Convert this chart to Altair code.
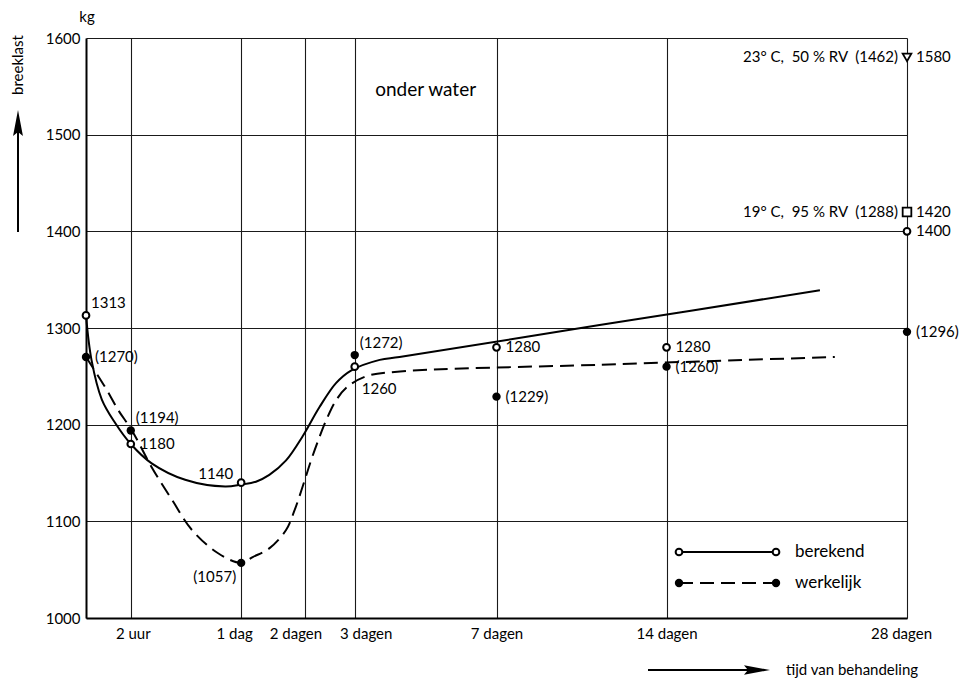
import altair as alt
import pandas as pd

# ---------------- data ----------------
# x axis: time of treatment in hours (square-root scale in the original)
tick_hours = [2, 24, 48, 72, 168, 336, 672]
tick_labels = ["2 uur", "1 dag", "2 dagen", "3 dagen", "7 dagen", "14 dagen", "28 dagen"]
y_ticks = [1000, 1100, 1200, 1300, 1400, 1500, 1600]

meas_hours = [0, 2, 24, 72, 168, 336, 672]
berekend = [1313, 1180, 1140, 1260, 1280, 1280, 1400]
werkelijk = [1270, 1194, 1057, 1272, 1229, 1260, 1296]
berekend_labels = ["1313", "1180", "1140", "1260", "1280", "1280", "1400"]
werkelijk_labels = ["(1270)", "(1194)", "(1057)", "(1272)", "(1229)", "(1260)", "(1296)"]

# other storage conditions at 28 dagen
NB = "\u00a0"
cond_hours = [672, 672]
cond_values = [1580, 1420]
cond_value_labels = ["1580", "1420"]
cond_names = [f"23° C,{NB}{NB}50 % RV{NB}{NB}(1462)", f"19° C,{NB}{NB}95 % RV{NB}{NB}(1288)"]
cond_shapes = ["triangle-down", "square"]

# hand-drawn curves
fit_b_hours = [0, 0.03, 0.25, 0.84, 2, 4.3, 9.8, 19.3, 24, 28.8, 33.5, 39.9, 46.8,
               54.3, 62.3, 70, 86, 98, 263, 537]
fit_b_kg = [1313, 1267, 1226, 1202, 1180, 1160, 1143, 1136, 1138, 1141, 1148, 1163, 1188,
            1218, 1243, 1256, 1267, 1270, 1303, 1339]
fit_w_hours = [0, 0.36, 1.04, 2.1, 4.3, 7.4, 11.2, 17.4, 24, 27.7, 33.5, 39.9, 43.3, 46.8,
               50.5, 54.3, 58.2, 62.3, 67.4, 78.2, 98.3, 263, 559]
fit_w_kg = [1270, 1239, 1215, 1194, 1156, 1122, 1091, 1067, 1057, 1063, 1072, 1091, 1111, 1136,
            1163, 1187, 1208, 1225, 1238, 1250, 1255, 1262, 1270]

annot_text = "onder water"
annot_hours = 115
annot_kg = 1546

FONT = "Lato"
FS = 15

# ---------------- tables ----------------
fit_b = pd.DataFrame({"h": fit_b_hours, "kg": fit_b_kg})
fit_w = pd.DataFrame({"h": fit_w_hours, "kg": fit_w_kg})
pts_b = pd.DataFrame({"h": meas_hours, "kg": berekend, "lab": berekend_labels})
pts_w = pd.DataFrame({"h": meas_hours, "kg": werkelijk, "lab": werkelijk_labels})
cond = pd.DataFrame({"h": cond_hours, "kg": cond_values, "lab": cond_value_labels,
                     "name": cond_names, "shape": cond_shapes})

# label placement (styling, not data)
place_b = {"1313": "ur", "1180": "r", "1140": "ul", "1260": "dr"}
place_w = {"(1194)": "ur", "(1272)": "ur", "(1057)": "dl"}
pts_b["pos"] = [place_b.get(l, "r") for l in berekend_labels]
pts_w["pos"] = [place_w.get(l, "r") for l in werkelijk_labels]
labels = pd.concat([pts_b, pts_w, cond[["h", "kg", "lab"]].assign(pos="r")], ignore_index=True)

# ---------------- scales / axes ----------------
label_expr = "".join(
    f"datum.value == {h} ? '{t}' : " for h, t in zip(tick_hours, tick_labels)
) + "''"
offsets = {2: 2, 24: -7, 48: -10, 72: 11, 672: -6}
x_axis = alt.Axis(
    values=tick_hours, labelExpr=label_expr, grid=True, ticks=False,
    gridColor="#1a1a1a", gridWidth=1.1, gridOpacity=1,
    domainColor="black", domainWidth=2, labelFontSize=FS, labelColor="black",
    labelFont=FONT, labelPadding=8, labelOverlap=False, labelFlush=False,
    labelOffset={"condition": [{"test": f"datum.value == {h}", "value": v} for h, v in offsets.items()],
                 "value": 0},
    title=None,
)
y_axis = alt.Axis(
    values=y_ticks, format="d", grid=True, ticks=False, gridColor="#1a1a1a", gridWidth=1.1,
    gridOpacity=1, domainColor="black", domainWidth=2, labelFontSize=FS,
    labelColor="black", labelFont=FONT, labelPadding=6, title=None, labelFlush=False,
)
X = alt.X("h:Q", scale=alt.Scale(type="sqrt", domain=[0, 672], nice=False), axis=x_axis)
Y = alt.Y("kg:Q", scale=alt.Scale(domain=[1000, 1600], nice=False, zero=False), axis=y_axis)

# ---------------- layers ----------------
line_b = alt.Chart(fit_b).mark_line(interpolate="catmull-rom", color="black", strokeWidth=2).encode(x=X, y=Y)
line_w = alt.Chart(fit_w).mark_line(interpolate="catmull-rom", color="black", strokeWidth=2,
                                    strokeDash=[14, 7]).encode(x=X, y=Y)

dot_w = alt.Chart(pts_w).mark_point(shape="circle", filled=True, color="black", size=70,
                                    opacity=1).encode(x=X, y=Y)
dot_b = alt.Chart(pts_b).mark_point(shape="circle", filled=True, fill="white", stroke="black",
                                    strokeWidth=2, size=45, opacity=1).encode(x=X, y=Y)
dot_c = alt.Chart(cond).mark_point(filled=True, fill="white", stroke="black", strokeWidth=1.8,
                                   size=75, opacity=1).encode(
    x=X, y=Y, shape=alt.Shape("shape:N", scale=None))

place_style = {
    "r": dict(align="left", dx=9, dy=0),
    "ur": dict(align="left", dx=5, dy=-12),
    "dr": dict(align="left", dx=7, dy=22),
    "ul": dict(align="right", dx=-8, dy=-9),
    "dl": dict(align="right", dx=-5, dy=14),
}
text_layers = []
for key, st in place_style.items():
    text_layers.append(
        alt.Chart(labels).transform_filter(alt.datum.pos == key).mark_text(
            baseline="middle", font=FONT, fontSize=FS, color="black", **st
        ).encode(x=X, y=Y, text="lab:N")
    )
cond_names_layer = alt.Chart(cond).mark_text(
    align="right", baseline="middle", dx=-9, font=FONT, fontSize=FS, color="black"
).encode(x=X, y=Y, text="name:N")

annot = alt.Chart(pd.DataFrame({"h": [annot_hours], "kg": [annot_kg], "t": [annot_text]})).mark_text(
    align="center", baseline="middle", font=FONT, fontSize=19, color="black"
).encode(x=X, y=Y, text="t:N")

one = alt.Data(values=[{}])

def txt(s, x, y, **kw):
    return alt.Chart(one).mark_text(text=s, font=FONT, color="black", **kw).encode(
        x=alt.value(x), y=alt.value(y))

# legend (inside the lower-right grid cell)
LX1, LX2, LT = 593, 690, 709
LY1, LY2 = 514, 545
leg = [
    alt.Chart(one).mark_rule(color="black", strokeWidth=2).encode(
        x=alt.value(LX1), x2=alt.value(LX2), y=alt.value(LY1)),
    alt.Chart(one).mark_rule(color="black", strokeWidth=2, strokeDash=[14, 7]).encode(
        x=alt.value(LX1), x2=alt.value(LX2), y=alt.value(LY2)),
]
for lx in (LX1, LX2):
    leg.append(alt.Chart(one).mark_point(shape="circle", filled=True, fill="white", stroke="black",
                                         strokeWidth=2, size=45, opacity=1).encode(
        x=alt.value(lx), y=alt.value(LY1)))
    leg.append(alt.Chart(one).mark_point(shape="circle", filled=True, color="black", size=70,
                                         opacity=1).encode(x=alt.value(lx), y=alt.value(LY2)))
leg.append(txt("berekend", LT, LY1, align="left", baseline="middle", fontSize=17))
leg.append(txt("werkelijk", LT, LY2, align="left", baseline="middle", fontSize=17))

# axis titles with arrows
AY = 632
deco = [
    txt("kg", 1, -21, align="center", baseline="middle", fontSize=15),
    txt("breeklast", -68, 27, align="center", baseline="middle", fontSize=15, angle=270),
    alt.Chart(one).mark_rule(color="black", strokeWidth=2).encode(
        x=alt.value(-68), y=alt.value(92), y2=alt.value(194)),
    alt.Chart(one).mark_point(shape="M0,-1L0.38,1L0,0.7L-0.38,1Z", filled=True, color="black",
                              size=676, opacity=1).encode(x=alt.value(-68), y=alt.value(85)),
    alt.Chart(one).mark_rule(color="black", strokeWidth=2).encode(
        x=alt.value(562), x2=alt.value(664), y=alt.value(AY)),
    alt.Chart(one).mark_point(shape="M1,0L-1,0.36L-0.7,0L-1,-0.36Z", filled=True, color="black",
                              size=676, opacity=1).encode(x=alt.value(671), y=alt.value(AY)),
    txt("tijd van behandeling", 700, AY, align="left", baseline="middle", fontSize=15),
]

chart = alt.layer(
    line_b, line_w, dot_w, dot_b, dot_c, *text_layers, cond_names_layer, annot, *leg, *deco
).properties(
    width=821, height=580,
    padding={"left": 78, "top": 30, "right": 52, "bottom": 62},
    autosize=alt.AutoSizeParams(type="none"),
    background="white",
).configure_view(stroke=None).configure_text(font=FONT)

chart.save("out.html", embed_options={"renderer": "svg", "actions": False})
